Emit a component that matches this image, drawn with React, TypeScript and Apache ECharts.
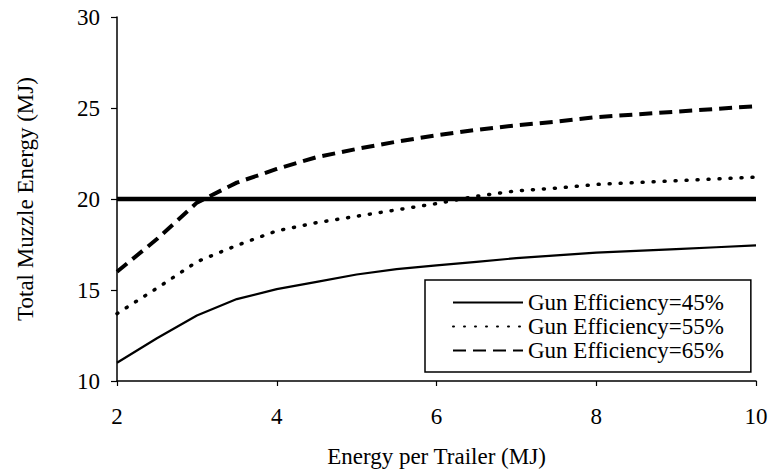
import React, { useEffect, useRef } from "react";
import * as echarts from "echarts";

const xValues = [2, 2.5, 3, 3.5, 4, 4.5, 5, 5.5, 6, 6.5, 7, 7.5, 8, 8.5, 9, 9.5, 10];
const eff45 = [11.0, 12.35, 13.6, 14.5, 15.05, 15.45, 15.85, 16.15, 16.35, 16.55, 16.75, 16.9, 17.05, 17.15, 17.25, 17.35, 17.45];
const eff55 = [13.7, 15.1, 16.55, 17.45, 18.25, 18.7, 19.05, 19.4, 19.75, 20.15, 20.45, 20.6, 20.8, 20.9, 21.0, 21.1, 21.2];
const eff65 = [16.0, 17.8, 19.8, 20.9, 21.65, 22.3, 22.75, 23.15, 23.5, 23.8, 24.05, 24.25, 24.5, 24.65, 24.8, 24.95, 25.1];
const requirement = [20, 20, 20, 20, 20, 20, 20, 20, 20, 20, 20, 20, 20, 20, 20, 20, 20];
const seriesNames = ["Gun Efficiency=45%", "Gun Efficiency=55%", "Gun Efficiency=65%"];
const xAxisName = "Energy per Trailer (MJ)";
const yAxisName = "Total Muzzle Energy (MJ)";

const FONT = "Liberation Serif";

const pairs = (ys: number[]) => xValues.map((x, i) => [x, ys[i]]);

export default function App() {
  const ref = useRef<HTMLDivElement>(null);
  useEffect(() => {
    if (!ref.current) return;
    const chart = echarts.init(ref.current, null, { renderer: "svg" });
    const text = { fontFamily: FONT, fontSize: 23, color: "#000", lineHeight: 23 };
    chart.setOption({
      animation: false,
      backgroundColor: "#fff",
      textStyle: { fontFamily: FONT },
      grid: { left: 117, right: 15, top: 17, bottom: 93, containLabel: false },
      legend: {
        data: seriesNames,
        orient: "vertical",
        left: 425,
        top: 280,
        borderColor: "#000",
        borderWidth: 1.5,
        borderRadius: 0,
        padding: [11, 27, 10, 27],
        itemWidth: 70,
        itemHeight: 14,
        itemGap: 1,
        backgroundColor: "#fff",
        itemStyle: { opacity: 0, borderWidth: 0 },
        textStyle: { ...text },
      },
      xAxis: {
        type: "value",
        min: 2,
        max: 10,
        interval: 2,
        name: xAxisName,
        nameLocation: "middle",
        nameGap: 64,
        nameTextStyle: { ...text },
        axisLine: { show: true, onZero: false, lineStyle: { color: "#000", width: 1.5 } },
        axisTick: { show: true, length: 5, lineStyle: { color: "#000", width: 1.2 } },
        axisLabel: { ...text, margin: 24 },
        splitLine: { show: false },
      },
      yAxis: {
        type: "value",
        min: 10,
        max: 30,
        interval: 5,
        name: yAxisName,
        nameLocation: "middle",
        nameGap: 80,
        nameTextStyle: { ...text },
        axisLine: { show: true, onZero: false, lineStyle: { color: "#000", width: 1.5 } },
        axisTick: { show: true, length: 6, lineStyle: { color: "#000", width: 1.2 } },
        axisLabel: { ...text, margin: 17 },
        splitLine: { show: false },
      },
      series: [
        {
          name: "Requirement",
          type: "line",
          data: pairs(requirement),
          symbol: "none",
          lineStyle: { color: "#000", width: 4.5 },
          z: 3,
        },
        {
          name: seriesNames[0],
          type: "line",
          data: pairs(eff45),
          symbol: "none",
          itemStyle: { color: "#000" },
          lineStyle: { color: "#000", width: 2.2 },
        },
        {
          name: seriesNames[1],
          type: "line",
          data: pairs(eff55),
          symbol: "none",
          itemStyle: { color: "#000" },
          lineStyle: { color: "#000", width: 3.5, type: [1, 10], cap: "round" },
        },
        {
          name: seriesNames[2],
          type: "line",
          data: pairs(eff65),
          symbol: "none",
          itemStyle: { color: "#000" },
          lineStyle: { color: "#000", width: 4, type: [13, 7] },
        },
      ],
    });
    return () => chart.dispose();
  }, []);
  return (
    <div
      ref={ref}
      style={{ position: "fixed", left: 0, top: 0, width: 771, height: 474, background: "#fff" }}
    />
  );
}
